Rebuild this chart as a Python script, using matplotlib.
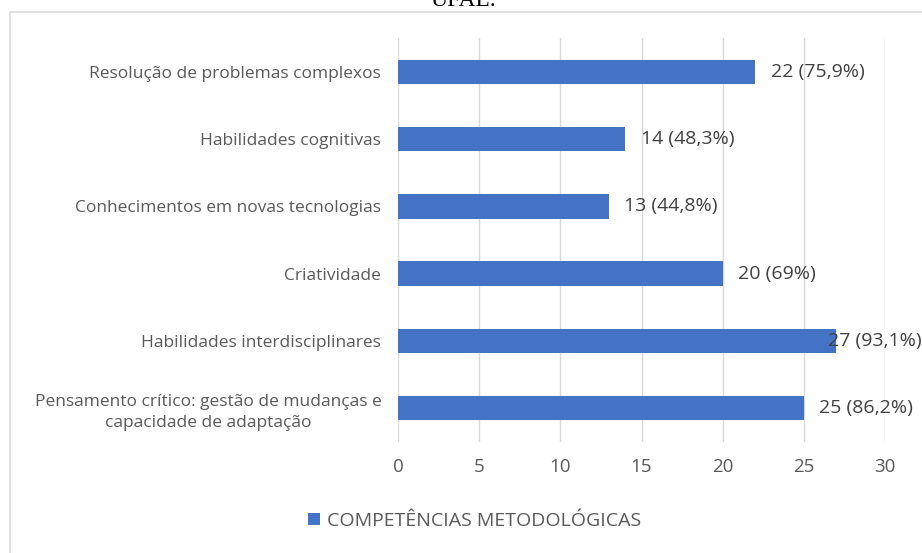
import matplotlib.pyplot as plt
import matplotlib.transforms as mtransforms
from matplotlib.patches import Rectangle

# categories listed top to bottom as in the chart
categories = [
    "Resolução de problemas complexos",
    "Habilidades cognitivas",
    "Conhecimentos em novas tecnologias",
    "Criatividade",
    "Habilidades interdisciplinares",
    "Pensamento crítico: gestão de mudanças e\ncapacidade de adaptação",
]
values = [22, 14, 13, 20, 27, 25]
percent_labels = ["75,9%", "48,3%", "44,8%", "69%", "93,1%", "86,2%"]
x_ticks = [0, 5, 10, 15, 20, 25, 30]
series_name = "COMPETÊNCIAS METODOLÓGICAS"

plt.rcParams['font.family'] = ['Open Sans', 'DejaVu Sans']

fig = plt.figure(figsize=(9.22, 5.53), dpi=100)
ax = fig.add_axes([0.4317, 0.2016, 0.5282, 0.7288])

# outer chart frame (cropped on right and bottom)
fig.patches.append(Rectangle((10 / 922, -0.05), 1.2, 1 - 12 / 553 + 0.05,
                             transform=fig.transFigure, fill=False,
                             edgecolor='#d9d9d9', linewidth=1.2))
# caption text cut off at the top, as in the source page
fig.text(0.503, 1.0, "UFAL.", ha='center', va='center', fontsize=17,
         family='Liberation Serif', color='black')

pos = list(range(len(categories)))
bars = ax.barh(pos, values, height=0.36, color='#4472c4', zorder=3,
               label=series_name)
ax.set_ylim(len(categories) - 0.5, -0.5)
ax.set_xlim(0, 30)
ax.set_xticks(x_ticks)
ax.set_yticks(pos)
ax.set_yticklabels(categories, multialignment='center', linespacing=1.45)
ax.grid(axis='x', color='#d9d9d9', linewidth=1, zorder=0)
for s in ax.spines.values():
    s.set_visible(False)
ax.tick_params(axis='both', length=0, labelcolor='#595959')
ax.tick_params(axis='y', pad=12, labelsize=12.5)
ax.tick_params(axis='x', pad=12, labelsize=13.5)

# data labels; one that would run past the edge gets pulled back like Excel does
edge = mtransforms.blended_transform_factory(fig.transFigure, ax.transData)
for b, v, p in zip(bars, values, percent_labels):
    yc = b.get_y() + b.get_height() / 2
    txt = f"{v} ({p})"
    if v > 26:
        ax.text(0.9995, yc, txt, transform=edge, va='center', ha='right',
                fontsize=14, color='#404040', zorder=4)
    else:
        ax.text(v + 0.95, yc, txt, va='center', ha='left',
                fontsize=14, color='#404040', zorder=4)

fig.legend(loc='center', bbox_to_anchor=(0.515, 1 - 521 / 553), frameon=False,
           fontsize=14, handlelength=0.6, handleheight=0.6,
           handletextpad=0.4, labelcolor='#595959')

fig.savefig("out.png", dpi=100)
